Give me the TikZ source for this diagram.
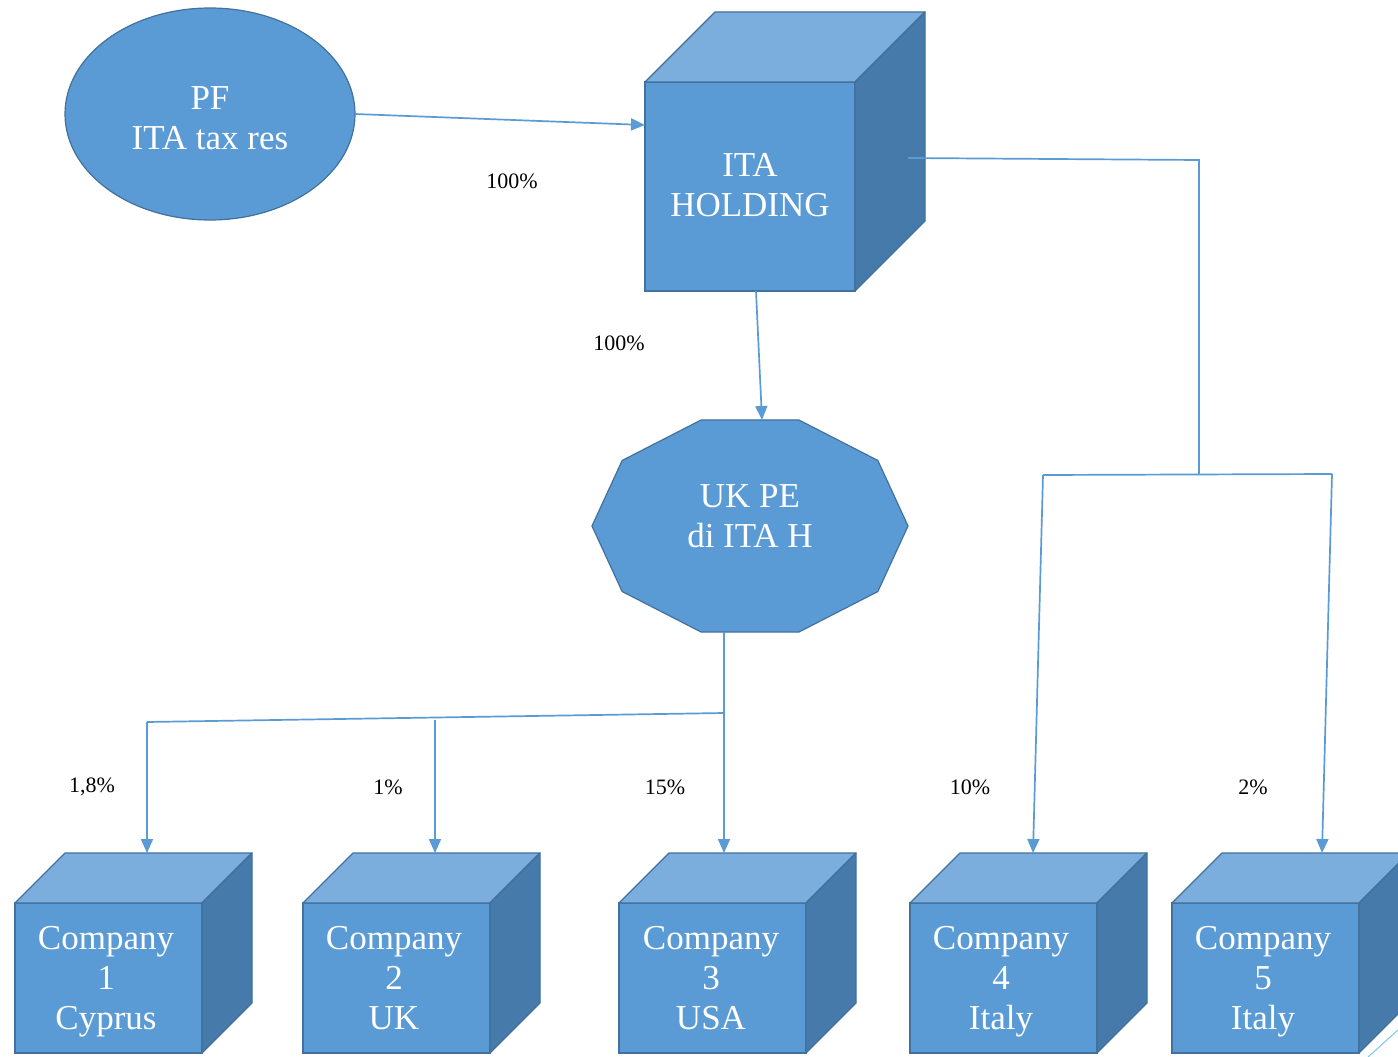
\documentclass[tikz,border=0pt]{standalone}
\usepackage{fontspec}
\setmainfont{Liberation Serif}
\usetikzlibrary{arrows.meta,shapes.geometric,calc}
\definecolor{cFront}{RGB}{91,155,213}
\definecolor{cTop}{RGB}{124,174,221}
\definecolor{cSide}{RGB}{70,122,170}
\definecolor{cEdge}{RGB}{65,113,156}
\definecolor{cConn}{RGB}{91,155,213}
\definecolor{cArt}{RGB}{120,200,235}
\tikzset{
  frontbox/.style={rectangle, draw=cEdge, fill=cFront, line width=1.2pt, inner sep=0pt, outer sep=0pt,
    text=white, align=center, font=\fontsize{35}{40}\selectfont},
  topface/.style={draw=cEdge, fill=cTop, line width=1.2pt, line join=round},
  sideface/.style={draw=cEdge, fill=cSide, line width=1.2pt, line join=round},
  shapebox/.style={draw=cEdge, fill=cFront, line width=1.2pt},
  whitetext/.style={text=white, align=center, font=\fontsize{35}{40}\selectfont},
  conn/.style={draw=cConn, line width=1.7pt},
  arr/.style={conn, -{Triangle[length=14pt,width=12pt]}},
  pct/.style={text=black, font=\fontsize{22}{24}\selectfont, inner sep=0pt},
  companybox/.style={frontbox, minimum width=187pt, minimum height=150pt}
}
\newcommand\cubesides[2]{%
  \filldraw[topface] (#1.north west) -- ++(#2pt,#2pt) -- ($(#1.north east)+(#2pt,#2pt)$) -- (#1.north east) -- cycle;
  \filldraw[sideface] (#1.north east) -- ++(#2pt,#2pt) -- ($(#1.south east)+(#2pt,#2pt)$) -- (#1.south east) -- cycle;}
\begin{document}
\begin{tikzpicture}[x=1pt,y=-1pt]
\useasboundingbox (0,0) rectangle (1398,1057);
\clip (0,0) rectangle (1398,1057);
\fill[white] (0,0) rectangle (1398,1057);

% PF ellipse
\node[ellipse, shapebox, minimum width=290pt, minimum height=212pt, inner sep=0pt, outer sep=0pt] (pf) at (210,114) {};
\node[whitetext] (pftxt) at (210,118) {PF\\ITA tax res};

% ITA holding cube
\node[frontbox, minimum width=210pt, minimum height=209pt] (ita) at (750,186.5) {};
\cubesides{ita}{70}
\node[whitetext] (itatxt) at (750,185) {ITA\\HOLDING};

% UK PE decagon
\coordinate (pec) at (750,526);
\filldraw[shapebox, line join=round] ($(pec)+(0:158pt and 111.5pt)$)
  \foreach \a in {36,72,...,324} { -- ($(pec)+(\a:158pt and 111.5pt)$) } -- cycle;
\node[whitetext] (pe) at (750,516) {UK PE\\di ITA H};
\coordinate (pen) at (762,420);
\coordinate (pes) at (724,632);

% companies
\node[companybox] (c1) at (108.5,978) {};
\cubesides{c1}{50}
\node[whitetext] (c1txt) at (106,982) {Company\\1\\Cyprus};
\node[companybox] (c2) at (396.5,978) {};
\cubesides{c2}{50}
\node[whitetext] (c2txt) at (394,982) {Company\\2\\\vphantom{y}UK};
\node[companybox] (c3) at (712.5,978) {};
\cubesides{c3}{50}
\node[whitetext] (c3txt) at (711,982) {Company\\3\\\vphantom{y}USA};
\node[companybox] (c4) at (1003.5,978) {};
\cubesides{c4}{50}
\node[whitetext] (c4txt) at (1001,982) {Company\\4\\Italy};
\node[companybox] (c5) at (1265.5,978) {};
\cubesides{c5}{50}
\node[whitetext] (c5txt) at (1263,982) {Company\\5\\Italy};

% arrow targets on cube tops
\coordinate (c1t) at (147,853);
\coordinate (c2t) at (435,853);
\coordinate (c3t) at (724,853);
\coordinate (c4t) at (1033,853);
\coordinate (c5t) at (1322,853);

% connectors top
\draw[arr] (pf.east) -- ([yshift=61.5pt]ita.west);
\draw[arr] ([xshift=6pt]ita.south) -- (pen);

% right branch
\coordinate (rs) at (908,158);
\coordinate (rb) at (1199,160);
\coordinate (jr) at (1199,474);
\coordinate (b4) at (1043,475);
\coordinate (b5) at (1332,474);
\draw[conn] (rs) -- (rb) -- (jr);
\draw[conn] (b4) -- (b5);
\draw[arr] (b4) -- (c4t);
\draw[arr] (b5) -- (c5t);

% left branch
\coordinate (jl) at (724,713);
\coordinate (b1) at (147,722);
\coordinate (b2) at (435,720);
\draw[arr] (pes) -- (c3t);
\draw[conn] (b1) -- (jl);
\draw[arr] (b1) -- (c1t);
\draw[arr] (b2) -- (c2t);

% percentage labels
\node[pct] (l1) at (512,181) {100\%};
\node[pct] (l2) at (619,343) {100\%};
\node[pct] (l3) at (92,787) {1,8\%};
\node[pct] (l4) at (388,787) {1\%};
\node[pct] (l5) at (665,787) {15\%};
\node[pct] (l6) at (970,787) {10\%};
\node[pct] (l7) at (1253,787) {2\%};

% stray line at bottom-right corner
\coordinate (sa) at (1368,1057);
\coordinate (sb) at (1398,1030);
\draw[cArt, line width=1pt] (sa) -- (sb);
\end{tikzpicture}
\end{document}
